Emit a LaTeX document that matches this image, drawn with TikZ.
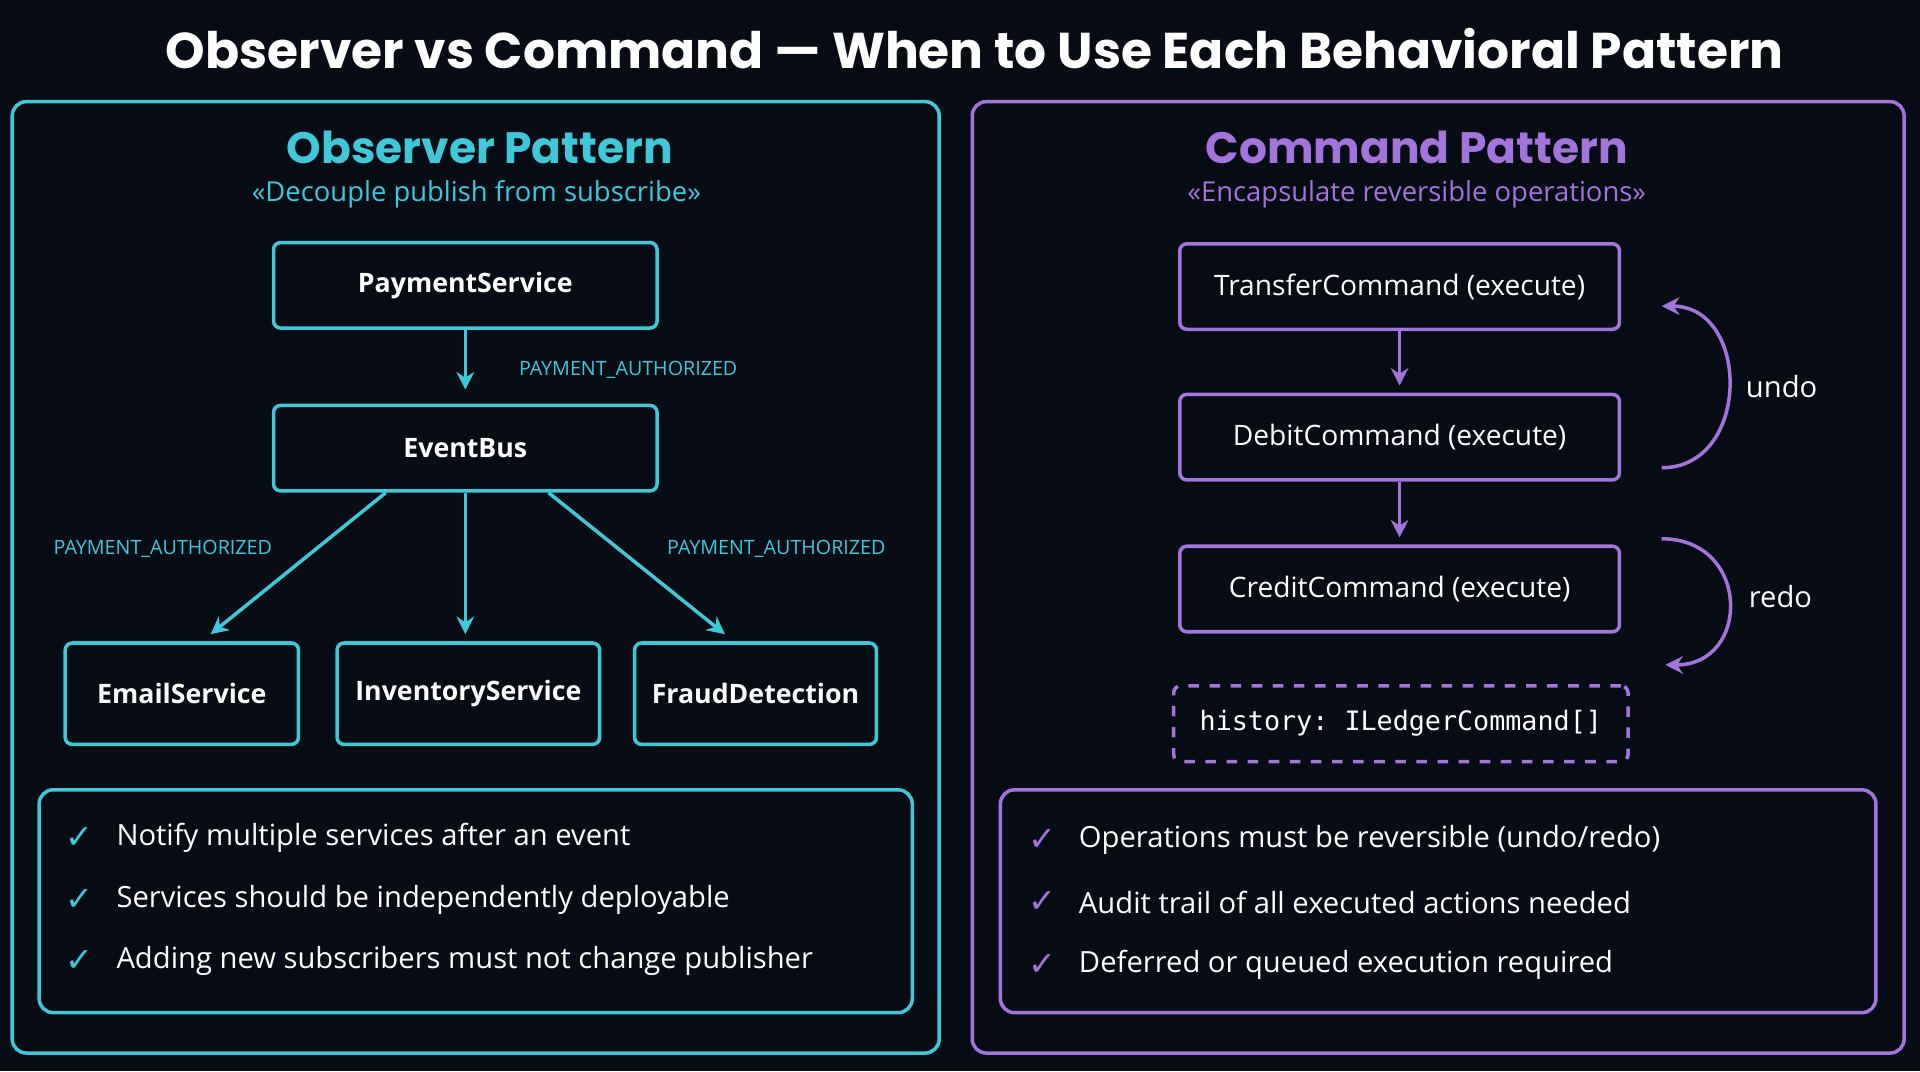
\documentclass[tikz,border=0pt]{standalone}
\usepackage{fontspec}
\setmainfont{Open Sans}
\newfontfamily\titlefont{Poppins}
\newfontfamily\symfont{DejaVu Sans}
\setmonofont{DejaVu Sans Mono}
\usetikzlibrary{arrows.meta,positioning}
\definecolor{bgdark}{HTML}{080C14}
\definecolor{obscyan}{HTML}{3EC8DA}
\definecolor{cmdpurple}{HTML}{A274DC}
\newcommand{\px}{0.3473pt}
\tikzset{
  panel/.style={draw,line width=1pt,rounded corners=4pt},
  obsbox/.style={draw=obscyan,line width=1pt,rounded corners=2pt,inner sep=0pt,text=white,font=\fontsize{7.6}{9}\selectfont\bfseries},
  cmdbox/.style={draw=cmdpurple,line width=1pt,rounded corners=2pt,inner sep=0pt,text=white,font=\fontsize{8}{10}\selectfont},
  evlabel/.style={text=obscyan,font=\fontsize{5.6}{7}\selectfont},
  item/.style={anchor=west,text=white,font=\fontsize{8.3}{10}\selectfont},
  tick/.style={font=\symfont\fontsize{9.5}{10}\selectfont\bfseries},
  flow/.style={-{Stealth[length=5pt,width=5pt]},line width=1pt}
}
\begin{document}
\begin{tikzpicture}[x=0.012245cm,y=-0.012245cm]
\fill[bgdark] (0,0) rectangle (1568,875);
\useasboundingbox (0,0) rectangle (1568,875);

\node (title) at (796,40) [text=white,font=\titlefont\fontsize{14.3}{16}\selectfont\bfseries] {Observer vs Command — When to Use Each Behavioral Pattern};

% observer side
\draw [panel,obscyan] (10,83) rectangle (767,860);
\node (obshead) at (392,120) [text=obscyan,font=\titlefont\fontsize{12.5}{14}\selectfont\bfseries] {Observer Pattern};
\node (obssub) at (389,159) [text=obscyan,font=\fontsize{7.8}{9}\selectfont] {«Decouple publish from subscribe»};
\node (payment)   at (380,233) [obsbox,minimum width=314*\px,minimum height=70*\px] {PaymentService};
\node (eventbus)  at (380,366) [obsbox,minimum width=314*\px,minimum height=70*\px] {EventBus};
\node (email)     at (148.5,566.5) [obsbox,minimum width=191*\px,minimum height=83*\px] {EmailService};
\node (inventory) at (382.5,566.5) [obsbox,minimum width=215*\px,minimum height=83*\px] {InventoryService};
\node (fraud)     at (617,566.5) [obsbox,minimum width=198*\px,minimum height=83*\px] {FraudDetection};
\draw [flow,obscyan] (payment) to ([yshift=4]eventbus.north);
\draw [flow,obscyan] (eventbus.south west -| 315,0) to ([yshift=2]email.north -| 172,0);
\draw [flow,obscyan] (eventbus) to ([yshift=2]inventory.north -| 380,0);
\draw [flow,obscyan] (eventbus.south east -| 448,0) to ([yshift=2]fraud.north -| 592,0);
\node (ev1) at (513,302) [evlabel] {PAYMENT\_AUTHORIZED};
\node (ev2) at (133,448) [evlabel] {PAYMENT\_AUTHORIZED};
\node (ev3) at (634,448) [evlabel] {PAYMENT\_AUTHORIZED};

\draw [panel,obscyan] (32,645) rectangle (745,827);
\node (oc1) at (65,684) [tick,text=obscyan] {✓};
\node (oc2) at (65,735) [tick,text=obscyan] {✓};
\node (oc3) at (65,785) [tick,text=obscyan] {✓};
\node (oi1) at (85,684) [item] {Notify multiple services after an event};
\node (oi2) at (85,735) [item] {Services should be independently deployable};
\node (oi3) at (85,785) [item] {Adding new subscribers must not change publisher};

% command side
\draw [panel,cmdpurple] (794,83) rectangle (1555,860);
\node (cmdhead) at (1157,120) [text=cmdpurple,font=\titlefont\fontsize{12.5}{14}\selectfont\bfseries] {Command Pattern};
\node (cmdsub) at (1157,159) [text=cmdpurple,font=\fontsize{7.8}{9}\selectfont] {«Encapsulate reversible operations»};
\node (transfer) at (1143,234) [cmdbox,minimum width=360*\px,minimum height=70*\px] {TransferCommand (execute)};
\node (debit)    at (1143,357) [cmdbox,minimum width=360*\px,minimum height=70*\px] {DebitCommand (execute)};
\node (credit)   at (1143,481) [cmdbox,minimum width=360*\px,minimum height=70*\px] {CreditCommand (execute)};
\node (history)  at (1144,591) [draw=cmdpurple,dashed,line width=1pt,rounded corners=2pt,inner sep=0pt,minimum width=372*\px,minimum height=62*\px,text=white,font=\ttfamily\fontsize{7.6}{9}\selectfont] {history: ILedgerCommand[]};
\draw [flow,cmdpurple] (transfer) to ([yshift=2]debit.north);
\draw [flow,cmdpurple] (debit) to ([yshift=2]credit.north);

\coordinate (undofrom) at (1357,382);
\coordinate (undoto)   at (1357,250);
\coordinate (redofrom) at (1357,440);
\coordinate (redoto)   at (1360,543);
\draw [flow,cmdpurple] (undofrom) .. controls (1430,382) and (1430,250) .. (undoto);
\draw [flow,cmdpurple] (redofrom) .. controls (1430,440) and (1430,543) .. (redoto);
\node (undo) at (1455,316) [text=white,font=\fontsize{8.3}{10}\selectfont] {undo};
\node (redo) at (1454,487) [text=white,font=\fontsize{8.3}{10}\selectfont] {redo};

\draw [panel,cmdpurple] (817,645) rectangle (1532,827);
\node (cc1) at (851,686) [tick,text=cmdpurple] {✓};
\node (cc2) at (851,737) [tick,text=cmdpurple] {✓};
\node (cc3) at (851,788) [tick,text=cmdpurple] {✓};
\node (ci1) at (871,686) [item] {Operations must be reversible (undo/redo)};
\node (ci2) at (871,737) [item] {Audit trail of all executed actions needed};
\node (ci3) at (871,788) [item] {Deferred or queued execution required};
\end{tikzpicture}
\end{document}
